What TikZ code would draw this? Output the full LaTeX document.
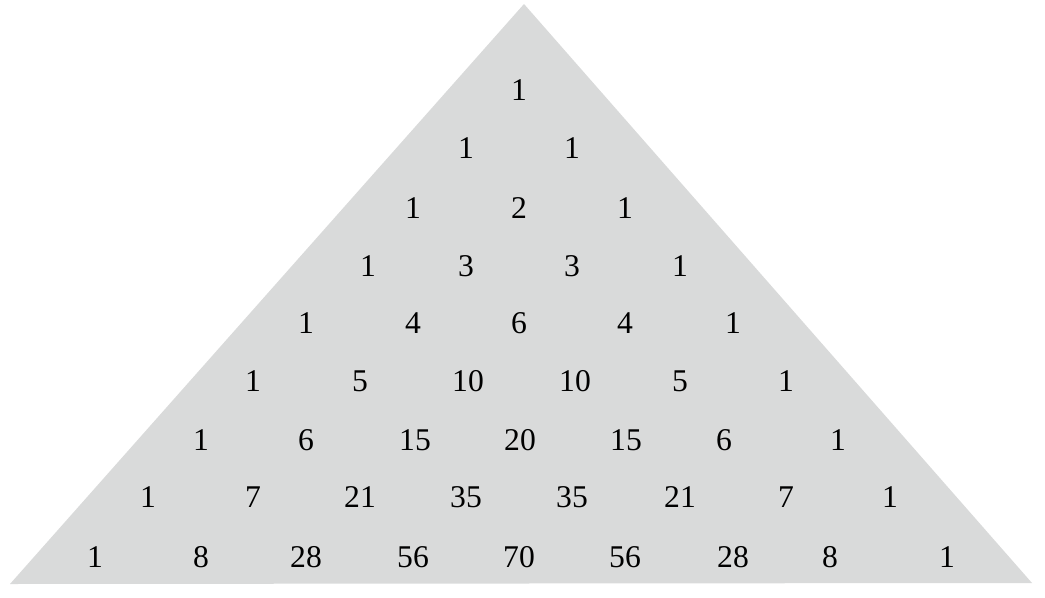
\documentclass[tikz,border=0pt]{standalone}
\usepackage{fontspec}
\setmainfont{Liberation Serif}
\usepackage{color}
\usetikzlibrary{positioning}
\definecolor{trigray}{HTML}{D9DADA}

\begin{document}
\begin{tikzpicture}[x=0.025cm,y=-0.025cm,
  entry/.style={inner sep=0pt,font=\fontsize{22.5}{24}\selectfont}]
\useasboundingbox (0,0) rectangle (1045,598);
\coordinate (apex) at (524,4);
\coordinate (left) at (10,584);
\coordinate (right) at (1032,583);
\fill[trigray] (apex) -- (left) -- (right) -- cycle;

\node[entry] (c00) at (519,90) {1};

\node[entry] (c10) at (466,148) {1};
\node[entry] (c11) at (572,148) {1};

\node[entry] (c20) at (413,208) {1};
\node[entry] (c21) at (519,208) {2};
\node[entry] (c22) at (625,208) {1};

\node[entry] (c30) at (368,266) {1};
\node[entry] (c31) at (466,266) {3};
\node[entry] (c32) at (572,266) {3};
\node[entry] (c33) at (680,266) {1};

\node[entry] (c40) at (306,323) {1};
\node[entry] (c41) at (413,323) {4};
\node[entry] (c42) at (519,323) {6};
\node[entry] (c43) at (625,323) {4};
\node[entry] (c44) at (733,323) {1};

\node[entry] (c50) at (253,381) {1};
\node[entry] (c51) at (360,381) {5};
\node[entry] (c52) at (468,381) {10};
\node[entry] (c53) at (575,381) {10};
\node[entry] (c54) at (680,381) {5};
\node[entry] (c55) at (786,381) {1};

\node[entry] (c60) at (201,440) {1};
\node[entry] (c61) at (306,440) {6};
\node[entry] (c62) at (415,440) {15};
\node[entry] (c63) at (520,440) {20};
\node[entry] (c64) at (626,440) {15};
\node[entry] (c65) at (724,440) {6};
\node[entry] (c66) at (838,440) {1};

\node[entry] (c70) at (148,497) {1};
\node[entry] (c71) at (253,497) {7};
\node[entry] (c72) at (360,497) {21};
\node[entry] (c73) at (466,497) {35};
\node[entry] (c74) at (572,497) {35};
\node[entry] (c75) at (680,497) {21};
\node[entry] (c76) at (786,497) {7};
\node[entry] (c77) at (890,497) {1};

\node[entry] (c80) at (95,557) {1};
\node[entry] (c81) at (201,557) {8};
\node[entry] (c82) at (306,557) {28};
\node[entry] (c83) at (413,557) {56};
\node[entry] (c84) at (519,557) {70};
\node[entry] (c85) at (625,557) {56};
\node[entry] (c86) at (733,557) {28};
\node[entry] (c87) at (830,557) {8};
\node[entry] (c88) at (947,557) {1};
\end{tikzpicture}
\end{document}
